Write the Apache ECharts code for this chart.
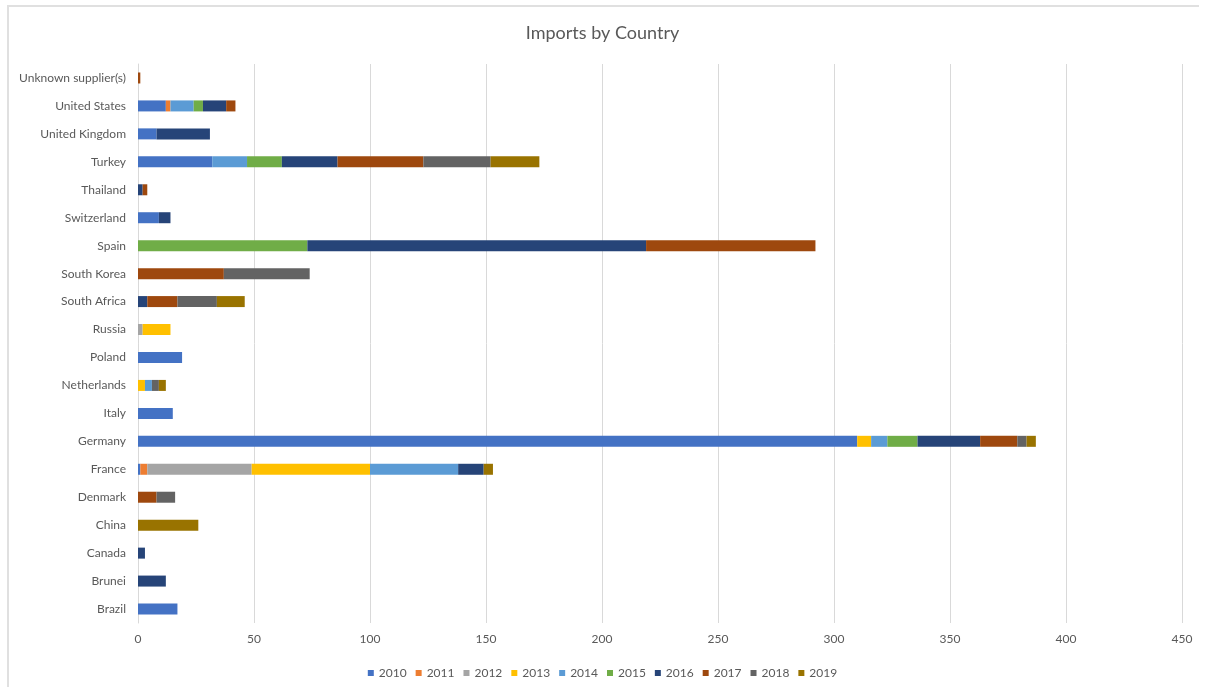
<!DOCTYPE html>
<html>
<head>
<meta charset="utf-8">
<script src="https://cdn.jsdelivr.net/npm/echarts@6/dist/echarts.min.js"></script>
<style>
  body { margin: 0; background: #fff; overflow: hidden; }
  #frame { position: absolute; left: 7px; top: 5px; width: 1190px; height: 680px; border-left: 2px solid #e0e0e0; border-top: 2px solid #e0e0e0; }
  #chart { position: absolute; left: 0; top: 0; width: 1205px; height: 691px; }
</style>
</head>
<body>
<div id="frame"></div>
<div id="chart"></div>
<script>
// countries, bottom to top like the excel chart
var countries = ["Brazil", "Brunei", "Canada", "China", "Denmark", "France", "Germany", "Italy", "Netherlands", "Poland",
  "Russia", "South Africa", "South Korea", "Spain", "Switzerland", "Thailand", "Turkey", "United Kingdom", "United States", "Unknown supplier(s)"];

var years = ["2010", "2011", "2012", "2013", "2014", "2015", "2016", "2017", "2018", "2019"];

var y2010 = [17, 0, 0, 0, 0, 1, 310, 15, 0, 19, 0, 0, 0, 0, 9, 0, 32, 8, 12, 0];
var y2011 = [0, 0, 0, 0, 0, 3, 0, 0, 0, 0, 0, 0, 0, 0, 0, 0, 0, 0, 2, 0];
var y2012 = [0, 0, 0, 0, 0, 45, 0, 0, 0, 0, 2, 0, 0, 0, 0, 0, 0, 0, 0, 0];
var y2013 = [0, 0, 0, 0, 0, 51, 6, 0, 3, 0, 12, 0, 0, 0, 0, 0, 0, 0, 0, 0];
var y2014 = [0, 0, 0, 0, 0, 38, 7, 0, 3, 0, 0, 0, 0, 0, 0, 0, 15, 0, 10, 0];
var y2015 = [0, 0, 0, 0, 0, 0, 13, 0, 0, 0, 0, 0, 0, 73, 0, 0, 15, 0, 4, 0];
var y2016 = [0, 12, 3, 0, 0, 11, 27, 0, 0, 0, 0, 4, 0, 146, 5, 2, 24, 23, 10, 0];
var y2017 = [0, 0, 0, 0, 8, 0, 16, 0, 0, 0, 0, 13, 37, 73, 0, 2, 37, 0, 4, 1];
var y2018 = [0, 0, 0, 0, 8, 0, 4, 0, 3, 0, 0, 17, 37, 0, 0, 0, 29, 0, 0, 0];
var y2019 = [0, 0, 0, 26, 0, 4, 4, 0, 3, 0, 0, 12, 0, 0, 0, 0, 21, 0, 0, 0];

var allYears = [y2010, y2011, y2012, y2013, y2014, y2015, y2016, y2017, y2018, y2019];
var colores = ["#4472C4", "#ED7D31", "#A5A5A5", "#FFC000", "#5B9BD5", "#70AD47", "#264478", "#9E480E", "#636363", "#997300"];

var series = [];
for (let index = 0; index < years.length; index++) {
    series.push({
        name: years[index],
        type: 'bar',
        stack: 'total',
        barWidth: 11,
        itemStyle: { color: colores[index] },
        data: allYears[index]
    });
}

var chart = echarts.init(document.querySelector("#chart"));
chart.setOption({
    animation: false,
    textStyle: { fontFamily: 'Lato' },
    title: {
        text: 'Imports by Country',
        left: 'center',
        top: 19,
        textStyle: { fontFamily: 'Lato', fontSize: 18, fontWeight: 'normal', color: '#595959' }
    },
    legend: {
        bottom: 7,
        left: 'center',
        itemWidth: 6,
        itemHeight: 6,
        itemGap: 9,
        icon: 'rect',
        textStyle: { fontFamily: 'Lato', fontSize: 12, color: '#595959' },
        data: years
    },
    grid: {
        left: 138,
        right: 23,
        top: 64,
        bottom: 68
    },
    xAxis: {
        type: 'value',
        min: 0,
        max: 450,
        interval: 50,
        axisLine: { show: false },
        axisTick: { show: false },
        axisLabel: { fontFamily: 'Lato', fontSize: 12, color: '#595959', margin: 10 },
        splitLine: { lineStyle: { color: '#d9d9d9' } }
    },
    yAxis: {
        type: 'category',
        data: countries,
        axisLine: { lineStyle: { color: '#d9d9d9' } },
        axisTick: { show: false },
        axisLabel: { fontFamily: 'Lato', fontSize: 12, color: '#595959', margin: 12 }
    },
    series: series
});
</script>
</body>
</html>
